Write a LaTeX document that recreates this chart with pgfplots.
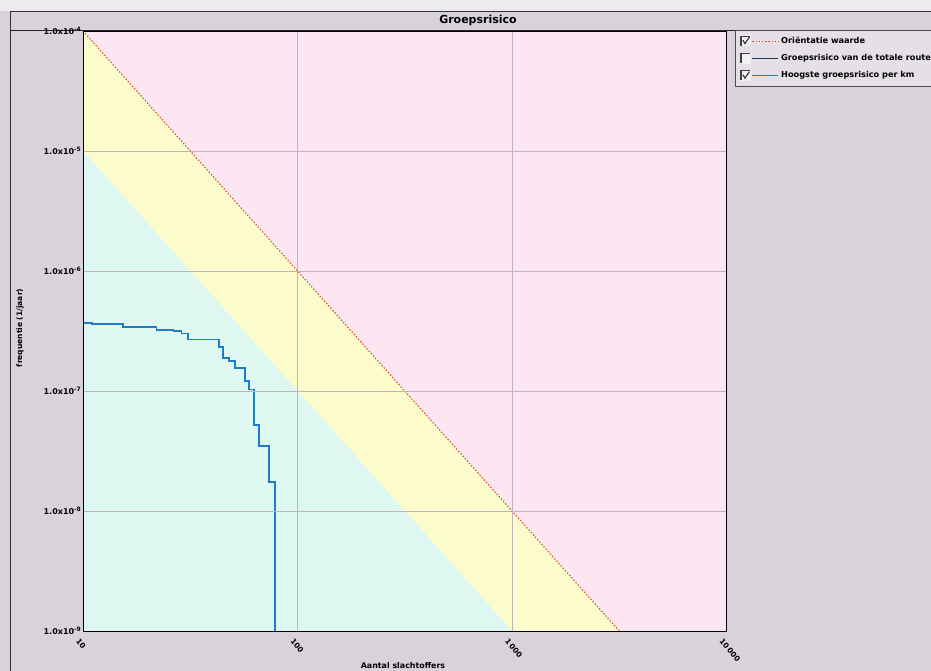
\documentclass[border=0pt]{standalone}
\usepackage{pgfplots}
\pgfplotsset{compat=1.18}
\usepackage{fontspec}
\setmainfont{DejaVu Sans}
\definecolor{bggray}{HTML}{D8D3DA}
\definecolor{pinkz}{HTML}{FCE6F2}
\definecolor{yellowz}{HTML}{FBFBCB}
\definecolor{greenz}{HTML}{DEF7F1}
\definecolor{redl}{HTML}{D2502E}
\definecolor{bluel}{HTML}{1E7CC8}
\definecolor{navyl}{HTML}{1F3A5A}
\definecolor{gridc}{HTML}{BDB5B8}
\definecolor{legbg}{HTML}{E4E0E5}
\pgfplotsset{
  legA/.style={legend image code/.code={
    \fill[white!50!legbg] (0pt,-4.5pt) rectangle (10pt,5.5pt);
    \draw[black!75, line width=1.2pt] (0.6pt,-4.5pt) -- (0.6pt,4.9pt) -- (10pt,4.9pt);
    \draw[black!80, line width=1.1pt] (2.5pt,1pt) -- (4.5pt,-2.5pt) -- (9pt,4pt);
    \draw[redl, line width=1pt, dash pattern=on 1.4pt off 1.8pt] (12pt,0pt) -- (38pt,0pt);
  }},
  legB/.style={legend image code/.code={
    \fill[white!50!legbg] (0pt,-4.5pt) rectangle (10pt,5.5pt);
    \draw[black!75, line width=1.2pt] (0.6pt,-4.5pt) -- (0.6pt,4.9pt) -- (10pt,4.9pt);
    \draw[navyl, line width=1.4pt] (12pt,0pt) -- (38pt,0pt);
  }},
  legC/.style={legend image code/.code={
    \fill[white!50!legbg] (0pt,-4.5pt) rectangle (10pt,5.5pt);
    \draw[black!75, line width=1.2pt] (0.6pt,-4.5pt) -- (0.6pt,4.9pt) -- (10pt,4.9pt);
    \draw[black!80, line width=1.1pt] (2.5pt,1pt) -- (4.5pt,-2.5pt) -- (9pt,4pt);
    \draw[bluel, line width=1.6pt] (12pt,0pt) -- (38pt,0pt);
  }},
}
\begin{document}
\begin{tikzpicture}
\clip (0pt,0pt) rectangle (931pt,671pt);
\fill[bggray] (0pt,0pt) rectangle (931pt,671pt);
\fill[white!55!bggray] (0pt,660pt) rectangle (931pt,671pt);
\draw[black!80, line width=0.8pt] (10pt,0pt) -- (10pt,660pt) -- (931pt,660pt);
\draw[black!85, line width=1pt] (10pt,640.5pt) -- (931pt,640.5pt);
\begin{axis}[
  scale only axis, width=643.5pt, height=600pt,
  at={(83pt,40pt)}, anchor=south west,
  xmode=log, ymode=log,
  xmin=10, xmax=10000, ymin=1e-9, ymax=1e-4,
  axis background/.style={fill=pinkz},
  axis on top,
  axis line style={black, line width=0.9pt},
  grid=major, major grid style={gridc, line width=0.5pt},
  major tick length=0pt, minor tick length=0pt,
  xtick={10,100,1000,10000},
  xticklabels={10,100,1\,000,10\,000},
  ytick={1e-9,1e-8,1e-7,1e-6,1e-5,1e-4},
  yticklabels={1.0x10\textsuperscript{-9},1.0x10\textsuperscript{-8},1.0x10\textsuperscript{-7},1.0x10\textsuperscript{-6},1.0x10\textsuperscript{-5},1.0x10\textsuperscript{-4}},
  yticklabel style={font=\fontsize{8}{9}\selectfont\bfseries, inner sep=1.5pt},
  xticklabel style={font=\fontsize{7.5}{9}\selectfont\bfseries, rotate=-50, anchor=west, yshift=-10pt, xshift=0pt},
  legend style={at={(1.0132,1.0017)}, anchor=north west, draw=gray!60!black,
    fill=legbg, font=\fontsize{8.2}{9}\selectfont\bfseries, row sep=5.5pt,
    inner xsep=5pt, inner ysep=5pt, cells={anchor=west}},
  legend cell align=left,
]
\addplot[fill=yellowz, draw=none, forget plot]
  coordinates {(10,1e-4) (3162.28,1e-9) (10,1e-9) (10,1e-4)};
\addplot[fill=greenz, draw=none, forget plot]
  coordinates {(10,1e-5) (1000,1e-9) (10,1e-9) (10,1e-5)};
\addlegendimage{legA}
\addlegendimage{legB}
\addlegendimage{legC}
\addplot[redl, line width=1.1pt, dash pattern=on 1.4pt off 1.8pt, forget plot]
  coordinates {(10,1e-4) (3162.28,1e-9)};
\addplot[bluel, line width=1.8pt, const plot, forget plot] coordinates {
  (10,3.7e-7) (11.0,3.6e-7) (15.4,3.39e-7) (22.0,3.24e-7) (26.4,3.18e-7)
  (28.8,3.02e-7) (31.0,2.69e-7) (43.2,2.34e-7) (45.1,1.87e-7) (48.1,1.79e-7)
  (51.2,1.55e-7) (56.9,1.22e-7) (59.6,1.03e-7) (62.9,5.2e-8) (66.4,3.5e-8)
  (73.9,1.75e-8) (78.3,1e-9)
};
\legend{Oriëntatie waarde, Groepsrisico van de totale route, Hoogste groepsrisico per km}
\end{axis}
\node[font=\fontsize{11}{12}\selectfont\bfseries] at (478pt,651pt) {Groepsrisico};
\node[font=\fontsize{7.5}{9}\selectfont\bfseries, rotate=90] at (20pt,343pt) {frequentie (1/jaar)};
\node[font=\fontsize{7.9}{9}\selectfont\bfseries] at (403pt,5pt) {Aantal slachtoffers};
\end{tikzpicture}
\end{document}
